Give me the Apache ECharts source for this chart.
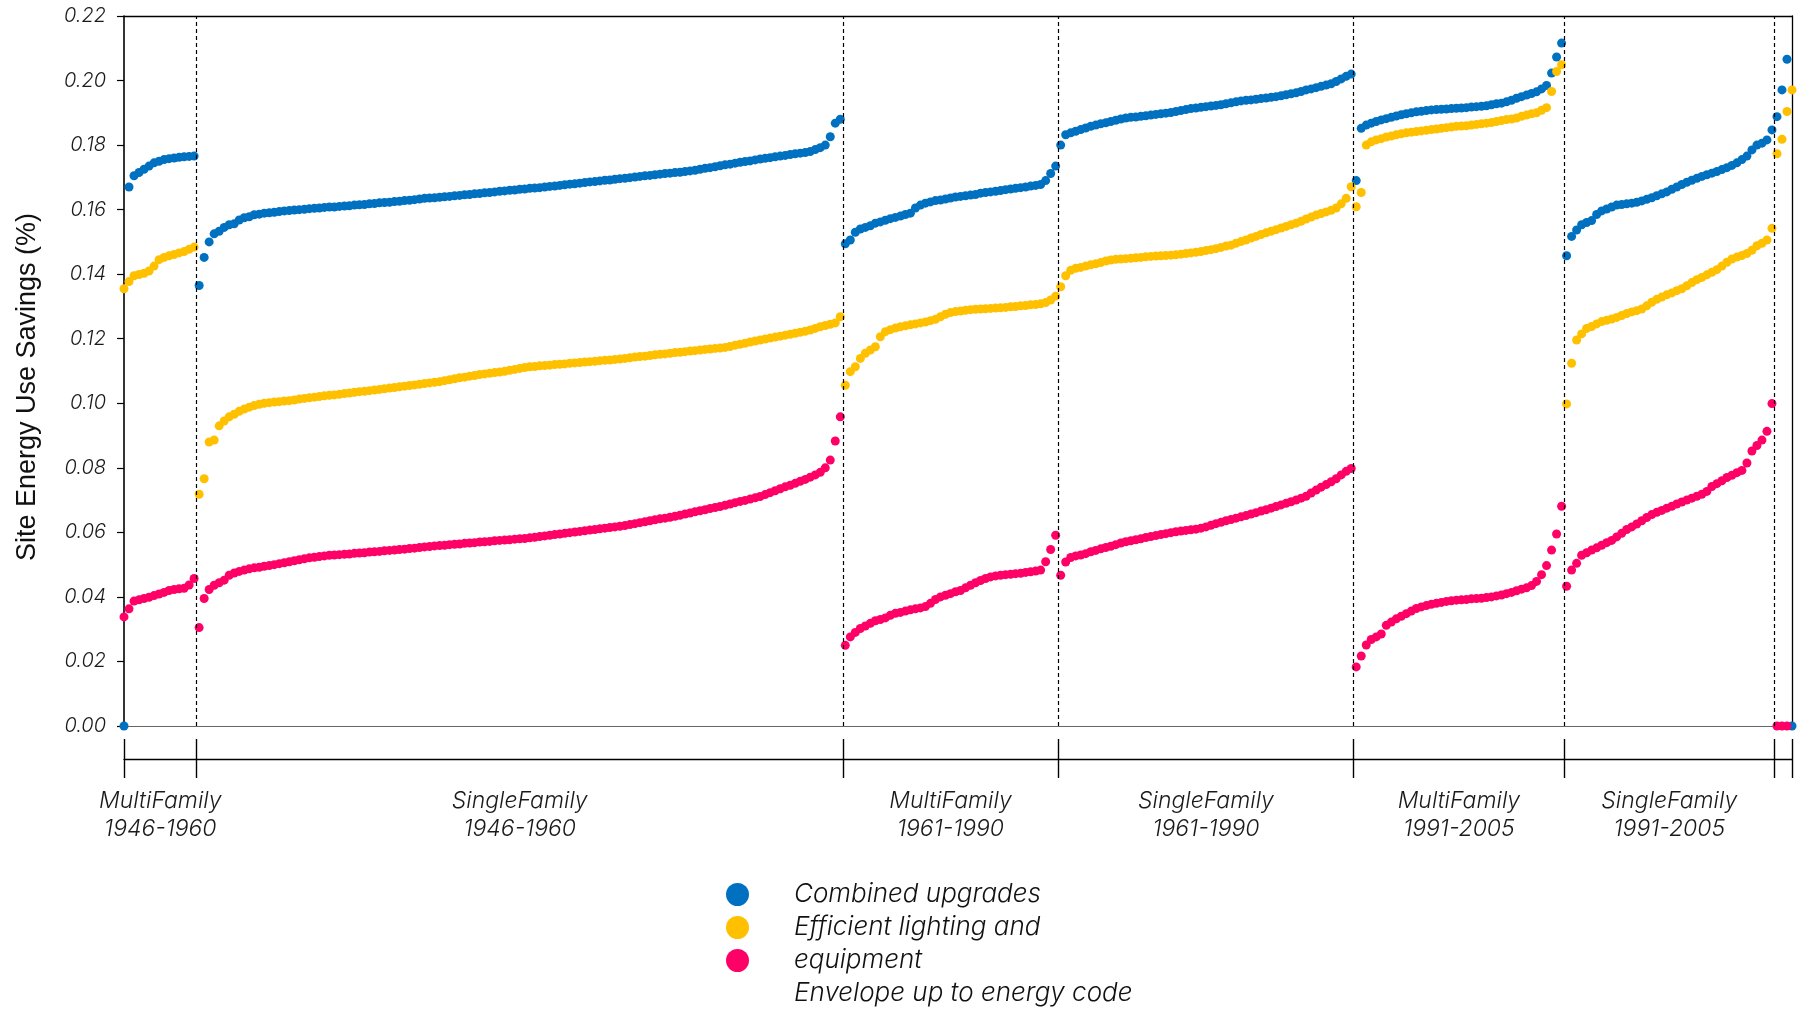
<!DOCTYPE html>
<html>
<head>
<meta charset="utf-8">
<title>Site Energy Use Savings by building group</title>
<script src="https://cdn.jsdelivr.net/npm/echarts@6/dist/echarts.min.js"></script>
<style>
  html, body { margin: 0; padding: 0; background: #ffffff; }
  #chart { width: 1799px; height: 1011px; }
</style>
</head>
<body>
<div id="chart"></div>
<script>
// Building groups along the x axis (last group carries no label)
const groupLabels = [
  'MultiFamily\n1946-1960', 'SingleFamily\n1946-1960',
  'MultiFamily\n1961-1990', 'SingleFamily\n1961-1990',
  'MultiFamily\n1991-2005', 'SingleFamily\n1991-2005', ''
];
// Number of ranked buildings in each group
const groupSizes = [15, 129, 43, 59, 42, 42, 4];

// Y axis ticks
const yMin = 0, yMax = 0.22, yStep = 0.02;

const seriesNames = ['Combined upgrades', 'Efficient lighting and equipment', 'Envelope up to energy code'];
const seriesColors = ['#0070C0', '#FFC000', '#FF0066'];

// Savings per building, sorted within each group (one inner array per group)
const combinedUpgrades = [
  [0, 0.1670, 0.1705, 0.1715, 0.1725, 0.1735, 0.1745, 0.1750, 0.1755, 0.1758, 0.1760, 0.1762, 0.1764, 0.1765, 0.1766],
  [0.1365, 0.1452, 0.1500, 0.1525, 0.1533, 0.1545, 0.1553, 0.1556, 0.1568, 0.1575,
   0.1578, 0.1584, 0.1586, 0.1589, 0.1590, 0.1592, 0.1594, 0.1596, 0.1597, 0.1599,
   0.1600, 0.1601, 0.1603, 0.1604, 0.1605, 0.1607, 0.1608, 0.1608, 0.1610, 0.1611,
   0.1612, 0.1614, 0.1615, 0.1616, 0.1618, 0.1619, 0.1621, 0.1622, 0.1623, 0.1625,
   0.1626, 0.1628, 0.1629, 0.1631, 0.1633, 0.1635, 0.1636, 0.1637, 0.1638, 0.1640,
   0.1641, 0.1643, 0.1644, 0.1646, 0.1647, 0.1649, 0.1650, 0.1652, 0.1653, 0.1655,
   0.1657, 0.1658, 0.1660, 0.1661, 0.1663, 0.1664, 0.1666, 0.1667, 0.1668, 0.1670,
   0.1672, 0.1673, 0.1675, 0.1677, 0.1679, 0.1680, 0.1682, 0.1684, 0.1686, 0.1687,
   0.1689, 0.1691, 0.1692, 0.1694, 0.1696, 0.1697, 0.1699, 0.1701, 0.1703, 0.1705,
   0.1706, 0.1708, 0.1710, 0.1712, 0.1713, 0.1715, 0.1716, 0.1718, 0.1720, 0.1722,
   0.1725, 0.1728, 0.1730, 0.1733, 0.1736, 0.1739, 0.1741, 0.1744, 0.1747, 0.1749,
   0.1751, 0.1754, 0.1757, 0.1759, 0.1761, 0.1764, 0.1766, 0.1768, 0.1771, 0.1773,
   0.1775, 0.1777, 0.1780, 0.1786, 0.1792, 0.1800, 0.1826, 0.1868, 0.1880],
  [0.1494, 0.1506, 0.1530, 0.1540, 0.1545, 0.1550, 0.1558, 0.1562, 0.1567, 0.1572,
   0.1576, 0.1580, 0.1585, 0.1589, 0.1605, 0.1614, 0.1620, 0.1624, 0.1628, 0.1630,
   0.1633, 0.1636, 0.1639, 0.1641, 0.1643, 0.1645, 0.1647, 0.1651, 0.1653, 0.1655,
   0.1657, 0.1659, 0.1662, 0.1664, 0.1666, 0.1668, 0.1670, 0.1673, 0.1675, 0.1678,
   0.1690, 0.1712, 0.1735],
  [0.1800, 0.1832, 0.1838, 0.1843, 0.1848, 0.1853, 0.1858, 0.1862, 0.1866, 0.1869,
   0.1873, 0.1877, 0.1881, 0.1884, 0.1886, 0.1887, 0.1889, 0.1891, 0.1893, 0.1895,
   0.1897, 0.1899, 0.1901, 0.1904, 0.1907, 0.1910, 0.1913, 0.1915, 0.1917, 0.1919,
   0.1921, 0.1923, 0.1925, 0.1928, 0.1931, 0.1934, 0.1937, 0.1939, 0.1940, 0.1942,
   0.1944, 0.1946, 0.1948, 0.1950, 0.1953, 0.1956, 0.1959, 0.1962, 0.1966, 0.1971,
   0.1974, 0.1978, 0.1982, 0.1986, 0.1990, 0.1997, 0.2005, 0.2013, 0.2020],
  [0.1690, 0.1852, 0.1862, 0.1868, 0.1873, 0.1878, 0.1882, 0.1886, 0.1890, 0.1894,
   0.1897, 0.1900, 0.1903, 0.1905, 0.1907, 0.1909, 0.1910, 0.1911, 0.1912, 0.1913,
   0.1914, 0.1915, 0.1916, 0.1918, 0.1919, 0.1920, 0.1922, 0.1925, 0.1928, 0.1930,
   0.1934, 0.1939, 0.1945, 0.1950, 0.1955, 0.1960, 0.1965, 0.1974, 0.1985, 0.2023,
   0.2073, 0.2116],
  [0.1457, 0.1517, 0.1537, 0.1553, 0.1560, 0.1566, 0.1585, 0.1596, 0.1602, 0.1608,
   0.1614, 0.1616, 0.1618, 0.1620, 0.1623, 0.1627, 0.1632, 0.1637, 0.1643, 0.1649,
   0.1655, 0.1663, 0.1670, 0.1678, 0.1685, 0.1691, 0.1697, 0.1703, 0.1708, 0.1713,
   0.1718, 0.1724, 0.1730, 0.1737, 0.1745, 0.1755, 0.1766, 0.1785, 0.1800, 0.1806,
   0.1816, 0.1847],
  [0.1888, 0.1971, 0.2066, 0]
];

const lightingEquipment = [
  [0.1355, 0.1377, 0.1395, 0.1399, 0.1403, 0.1410, 0.1425, 0.1445, 0.1452, 0.1457, 0.1461, 0.1466, 0.1470, 0.1477, 0.1484],
  [0.0718, 0.0766, 0.0880, 0.0886, 0.0930, 0.0945, 0.0958, 0.0966, 0.0975, 0.0982,
   0.0988, 0.0993, 0.0997, 0.1000, 0.1002, 0.1004, 0.1005, 0.1007, 0.1008, 0.1010,
   0.1013, 0.1015, 0.1017, 0.1019, 0.1021, 0.1023, 0.1025, 0.1026, 0.1028, 0.1030,
   0.1032, 0.1034, 0.1036, 0.1037, 0.1039, 0.1041, 0.1043, 0.1045, 0.1047, 0.1049,
   0.1051, 0.1053, 0.1055, 0.1057, 0.1059, 0.1061, 0.1063, 0.1065, 0.1067, 0.1070,
   0.1073, 0.1076, 0.1079, 0.1081, 0.1084, 0.1086, 0.1089, 0.1091, 0.1093, 0.1095,
   0.1097, 0.1099, 0.1102, 0.1105, 0.1108, 0.1111, 0.1113, 0.1114, 0.1116, 0.1117,
   0.1118, 0.1120, 0.1121, 0.1122, 0.1124, 0.1125, 0.1126, 0.1128, 0.1129, 0.1130,
   0.1132, 0.1133, 0.1134, 0.1136, 0.1137, 0.1139, 0.1141, 0.1143, 0.1145, 0.1146,
   0.1148, 0.1150, 0.1152, 0.1153, 0.1155, 0.1157, 0.1158, 0.1160, 0.1162, 0.1163,
   0.1165, 0.1167, 0.1168, 0.1170, 0.1171, 0.1173, 0.1176, 0.1180, 0.1183, 0.1186,
   0.1190, 0.1193, 0.1196, 0.1199, 0.1202, 0.1205, 0.1208, 0.1211, 0.1214, 0.1217,
   0.1220, 0.1223, 0.1227, 0.1232, 0.1237, 0.1241, 0.1245, 0.1249, 0.1268],
  [0.1056, 0.1098, 0.1113, 0.1139, 0.1155, 0.1165, 0.1175, 0.1206, 0.1222, 0.1228,
   0.1233, 0.1237, 0.1240, 0.1243, 0.1246, 0.1249, 0.1252, 0.1256, 0.1260, 0.1268,
   0.1276, 0.1281, 0.1284, 0.1286, 0.1288, 0.1290, 0.1291, 0.1292, 0.1293, 0.1294,
   0.1295, 0.1296, 0.1297, 0.1299, 0.1300, 0.1302, 0.1303, 0.1305, 0.1306, 0.1308,
   0.1312, 0.1320, 0.1332],
  [0.1361, 0.1395, 0.1412, 0.1418, 0.1421, 0.1425, 0.1429, 0.1432, 0.1436, 0.1441,
   0.1444, 0.1446, 0.1447, 0.1448, 0.1449, 0.1451, 0.1452, 0.1454, 0.1455, 0.1456,
   0.1457, 0.1458, 0.1459, 0.1460, 0.1462, 0.1464, 0.1466, 0.1468, 0.1470, 0.1473,
   0.1476, 0.1479, 0.1483, 0.1487, 0.1490, 0.1496, 0.1501, 0.1506, 0.1512, 0.1517,
   0.1523, 0.1528, 0.1533, 0.1538, 0.1543, 0.1548, 0.1553, 0.1558, 0.1564, 0.1571,
   0.1577, 0.1583, 0.1588, 0.1593, 0.1598, 0.1605, 0.1618, 0.1635, 0.1671],
  [0.1609, 0.1653, 0.1800, 0.1810, 0.1816, 0.1820, 0.1825, 0.1828, 0.1832, 0.1835,
   0.1838, 0.1840, 0.1842, 0.1844, 0.1846, 0.1848, 0.1850, 0.1852, 0.1854, 0.1856,
   0.1858, 0.1859, 0.1860, 0.1862, 0.1864, 0.1866, 0.1868, 0.1870, 0.1873, 0.1876,
   0.1879, 0.1881, 0.1884, 0.1889, 0.1893, 0.1897, 0.1900, 0.1908, 0.1916, 0.1966,
   0.2028, 0.2049],
  [0.0998, 0.1124, 0.1196, 0.1215, 0.1232, 0.1238, 0.1246, 0.1253, 0.1257, 0.1261,
   0.1266, 0.1272, 0.1278, 0.1283, 0.1287, 0.1292, 0.1302, 0.1313, 0.1322, 0.1329,
   0.1336, 0.1342, 0.1349, 0.1355, 0.1364, 0.1374, 0.1383, 0.1390, 0.1398, 0.1406,
   0.1414, 0.1425, 0.1437, 0.1447, 0.1453, 0.1458, 0.1464, 0.1474, 0.1488, 0.1496,
   0.1506, 0.1542],
  [0.1773, 0.1818, 0.1904, 0.1971]
];

const envelopeCode = [
  [0.0338, 0.0363, 0.0387, 0.0391, 0.0395, 0.0399, 0.0404, 0.0409, 0.0414, 0.0420, 0.0423, 0.0425, 0.0427, 0.0437, 0.0457],
  [0.0305, 0.0395, 0.0423, 0.0436, 0.0444, 0.0452, 0.0467, 0.0474, 0.0479, 0.0483,
   0.0487, 0.0490, 0.0492, 0.0495, 0.0497, 0.0500, 0.0503, 0.0506, 0.0509, 0.0512,
   0.0515, 0.0518, 0.0521, 0.0523, 0.0525, 0.0527, 0.0529, 0.0530, 0.0531, 0.0532,
   0.0533, 0.0535, 0.0536, 0.0537, 0.0539, 0.0540, 0.0541, 0.0543, 0.0544, 0.0545,
   0.0547, 0.0548, 0.0550, 0.0551, 0.0553, 0.0555, 0.0556, 0.0558, 0.0559, 0.0560,
   0.0562, 0.0563, 0.0564, 0.0566, 0.0567, 0.0568, 0.0570, 0.0571, 0.0572, 0.0574,
   0.0575, 0.0576, 0.0577, 0.0579, 0.0580, 0.0581, 0.0583, 0.0585, 0.0587, 0.0589,
   0.0591, 0.0593, 0.0595, 0.0597, 0.0599, 0.0601, 0.0603, 0.0605, 0.0607, 0.0609,
   0.0611, 0.0613, 0.0615, 0.0617, 0.0619, 0.0621, 0.0624, 0.0627, 0.0630, 0.0633,
   0.0636, 0.0639, 0.0642, 0.0644, 0.0647, 0.0650, 0.0653, 0.0657, 0.0660, 0.0664,
   0.0667, 0.0670, 0.0674, 0.0677, 0.0680, 0.0684, 0.0688, 0.0692, 0.0696, 0.0699,
   0.0703, 0.0707, 0.0711, 0.0717, 0.0723, 0.0729, 0.0735, 0.0741, 0.0746, 0.0752,
   0.0758, 0.0764, 0.0771, 0.0778, 0.0786, 0.0800, 0.0824, 0.0883, 0.0958],
  [0.0250, 0.0276, 0.0290, 0.0302, 0.0310, 0.0318, 0.0326, 0.0330, 0.0335, 0.0343,
   0.0349, 0.0352, 0.0356, 0.0360, 0.0363, 0.0366, 0.0370, 0.0380, 0.0392, 0.0400,
   0.0405, 0.0410, 0.0416, 0.0420, 0.0428, 0.0436, 0.0444, 0.0451, 0.0457, 0.0462,
   0.0465, 0.0467, 0.0469, 0.0470, 0.0472, 0.0473, 0.0476, 0.0478, 0.0480, 0.0483,
   0.0509, 0.0547, 0.0591],
  [0.0467, 0.0508, 0.0522, 0.0527, 0.0530, 0.0534, 0.0540, 0.0544, 0.0549, 0.0553,
   0.0557, 0.0562, 0.0567, 0.0571, 0.0574, 0.0577, 0.0580, 0.0584, 0.0587, 0.0590,
   0.0593, 0.0596, 0.0599, 0.0602, 0.0604, 0.0606, 0.0608, 0.0610, 0.0613, 0.0617,
   0.0622, 0.0627, 0.0631, 0.0636, 0.0640, 0.0644, 0.0648, 0.0652, 0.0657, 0.0661,
   0.0666, 0.0670, 0.0675, 0.0680, 0.0685, 0.0690, 0.0695, 0.0700, 0.0706, 0.0712,
   0.0722, 0.0731, 0.0740, 0.0748, 0.0757, 0.0766, 0.0778, 0.0789, 0.0798],
  [0.0183, 0.0217, 0.0251, 0.0268, 0.0276, 0.0285, 0.0312, 0.0322, 0.0332, 0.0340,
   0.0348, 0.0356, 0.0364, 0.0369, 0.0373, 0.0377, 0.0380, 0.0383, 0.0386, 0.0388,
   0.0390, 0.0391, 0.0392, 0.0394, 0.0395, 0.0396, 0.0398, 0.0400, 0.0403, 0.0406,
   0.0410, 0.0414, 0.0419, 0.0424, 0.0428, 0.0435, 0.0448, 0.0469, 0.0497, 0.0545,
   0.0595, 0.0681],
  [0.0433, 0.0483, 0.0504, 0.0529, 0.0537, 0.0545, 0.0552, 0.0560, 0.0568, 0.0575,
   0.0586, 0.0597, 0.0609, 0.0617, 0.0626, 0.0636, 0.0646, 0.0655, 0.0662, 0.0668,
   0.0675, 0.0681, 0.0688, 0.0694, 0.0700, 0.0706, 0.0712, 0.0718, 0.0727, 0.0742,
   0.0751, 0.0760, 0.0770, 0.0777, 0.0785, 0.0792, 0.0815, 0.0852, 0.0869, 0.0886,
   0.0913, 0.0999],
  [0, 0, 0, null]
];

// Legend text, wrapped as it is laid out beside the markers
const legendLines = ['Combined upgrades', 'Efficient lighting and', 'equipment', 'Envelope up to energy code'];
const yAxisTitle = 'Site Energy Use Savings (%)';

// ---- derived layout helpers (ranks along the shared x axis) ----
const groupStarts = [];
let total = 0;
groupSizes.forEach(n => { groupStarts.push(total); total += n; });
const lastRank = total - 1;
const dividers = groupStarts.slice(1).map(s => s - 0.5);
const bracketTicks = [0].concat(dividers, [lastRank]);
const labelCenters = groupSizes.map((n, g) => {
  const a = g === 0 ? 0 : groupStarts[g] - 0.5;
  const b = g === groupSizes.length - 1 ? lastRank : groupStarts[g + 1] - 0.5;
  return (a + b) / 2;
});
function groupLabelAt(v) {
  const g = labelCenters.findIndex(c => Math.abs(c - v) < 1e-6);
  return g >= 0 ? groupLabels[g] : '';
}
function toPoints(groups) {
  const pts = [];
  groups.forEach((vals, g) => vals.forEach((v, i) => {
    if (v !== null) pts.push([groupStarts[g] + i, v]);
  }));
  return pts;
}

const lightFont = 'Inter, "Liberation Sans", Arial, sans-serif';
const italicLight = { fontFamily: lightFont, fontStyle: 'italic', fontWeight: 300, color: '#1a1a1a' };
const plainX = { type: 'value', min: 0, max: lastRank, splitLine: { show: false } };

const chart = echarts.init(document.getElementById('chart'), null, { renderer: 'canvas' });

const option = {
  animation: false,
  backgroundColor: '#ffffff',
  grid: { left: 124, right: 7, top: 16, bottom: 285, containLabel: false },
  xAxis: [
    Object.assign({}, plainX, {
      position: 'bottom',
      axisLine: { show: true, onZero: false, lineStyle: { color: '#666666', width: 1.2 } },
      axisTick: { show: false }, axisLabel: { show: false }
    }),
    Object.assign({}, plainX, {
      position: 'top',
      axisLine: { show: true, onZero: false, lineStyle: { color: '#000000', width: 1.3 } },
      axisTick: { show: false }, axisLabel: { show: false }
    }),
    Object.assign({}, plainX, {
      position: 'bottom', offset: 33,
      axisLine: { show: true, onZero: false, lineStyle: { color: '#000000', width: 1.4 } },
      axisTick: { show: true, customValues: bracketTicks, inside: false, length: 19,
                  lineStyle: { color: '#000000', width: 1.4 } },
      axisLabel: Object.assign({ show: true, customValues: labelCenters, formatter: groupLabelAt,
                  margin: 28, fontSize: 23, lineHeight: 28, align: 'center' }, italicLight)
    }),
    Object.assign({}, plainX, {
      position: 'bottom', offset: 33,
      axisLine: { show: false, onZero: false },
      axisTick: { show: true, customValues: bracketTicks, inside: true, length: 20,
                  lineStyle: { color: '#000000', width: 1.4 } },
      axisLabel: { show: false }
    })
  ],
  yAxis: [
    {
      type: 'value', min: yMin, max: yMax, interval: yStep, position: 'left',
      axisLine: { show: true, onZero: false, lineStyle: { color: '#000000', width: 1.6 } },
      axisTick: { show: true, length: 7, lineStyle: { color: '#000000', width: 1.2 } },
      axisLabel: Object.assign({ formatter: v => v.toFixed(2), margin: 18, fontSize: 20 }, italicLight),
      splitLine: { show: false }
    },
    {
      type: 'value', min: yMin, max: yMax, interval: yStep, position: 'right',
      axisLine: { show: true, onZero: false, lineStyle: { color: '#000000', width: 1.3 } },
      axisTick: { show: false }, axisLabel: { show: false }, splitLine: { show: false }
    }
  ],
  legend: {
    orient: 'vertical', left: 721, top: 878,
    icon: 'circle', itemWidth: 23, itemHeight: 23, itemGap: 10,
    selectedMode: false, formatter: () => '',
    textStyle: { fontSize: 1 },
    data: seriesNames
  },
  graphic: [
    {
      type: 'text', x: 28, y: 387, rotation: Math.PI / 2, silent: true,
      style: { text: yAxisTitle, fontFamily: '"Liberation Sans", Arial, sans-serif', fontSize: 27,
               fill: '#111111', align: 'center', verticalAlign: 'middle' }
    }
  ].concat(legendLines.map((t, k) => ({
    type: 'text', x: 794, y: 894 + k * 33, silent: true,
    style: { text: t, fontFamily: lightFont, fontStyle: 'italic', fontWeight: 300, fontSize: 26,
             fill: '#111111', align: 'left', verticalAlign: 'middle' }
  }))),
  series: [combinedUpgrades, lightingEquipment, envelopeCode].map((groups, s) => {
    const ser = {
      name: seriesNames[s], type: 'scatter', xAxisIndex: 0, yAxisIndex: 0,
      data: toPoints(groups), symbol: 'circle', symbolSize: 9,
      itemStyle: { color: seriesColors[s], opacity: 1 },
      emphasis: { disabled: true }
    };
    if (s === 0) {
      ser.markLine = {
        silent: true, symbol: ['none', 'none'], label: { show: false },
        lineStyle: { color: '#000000', type: [4, 3], width: 1.2 },
        data: dividers.map(d => ({ xAxis: d }))
      };
    }
    return ser;
  })
};

chart.setOption(option);
</script>
</body>
</html>
